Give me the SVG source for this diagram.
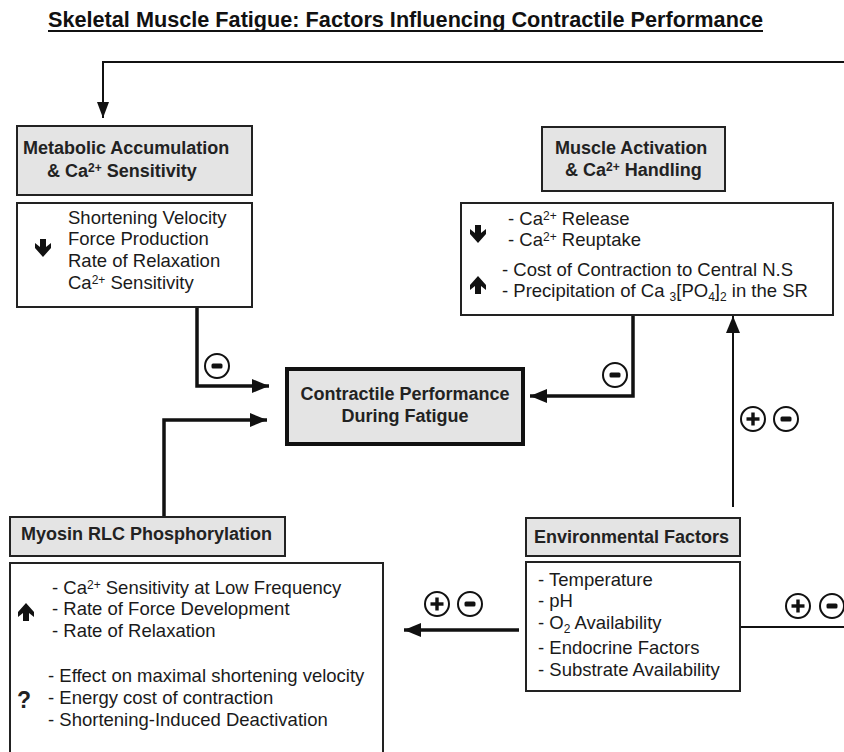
<svg xmlns="http://www.w3.org/2000/svg" xmlns:xlink="http://www.w3.org/1999/xlink" width="844" height="752" viewBox="0 0 844 752">
<style>
  .hdr { fill: #e4e4e4; stroke: #222; stroke-width: 2; }
  .cnt { fill: #fff; stroke: #222; stroke-width: 2; }
  .ctr { fill: #e4e4e4; stroke: #111; stroke-width: 4; }
  .bt { font-family: "Liberation Sans", Arial, sans-serif; font-weight: bold; font-size: 18px; fill: #222; }
  .t { font-family: "Liberation Sans", Arial, sans-serif; font-size: 18.5px; fill: #1a1a1a; }
  .sup { font-size: 12px; }
  .ttl { font-family: "Liberation Sans Narrow", "Liberation Sans", Arial, sans-serif; font-weight: bold; font-size: 22px; fill: #111; }
  .ln { fill: none; stroke: #111; stroke-width: 2; }
  .lnb { fill: none; stroke: #111; stroke-width: 3.5; }
  .sym circle { fill: #fff; stroke: #111; stroke-width: 2; }
</style>
<defs>
  <marker id="ah" markerUnits="userSpaceOnUse" markerWidth="17" markerHeight="14" refX="17" refY="7" orient="auto">
    <path d="M0,0 L17,7 L0,14 z" fill="#111"/>
  </marker>
  <marker id="ahs" markerUnits="userSpaceOnUse" markerWidth="16" markerHeight="12" refX="16" refY="6" orient="auto">
    <path d="M0,0 L16,6 L0,12 z" fill="#111"/>
  </marker>
  <g id="plus" class="sym">
    <circle cx="0" cy="0" r="12"/>
    <rect x="-6.5" y="-1.7" width="13" height="3.4" fill="#111"/>
    <rect x="-1.7" y="-6.5" width="3.4" height="13" fill="#111"/>
  </g>
  <g id="minus" class="sym">
    <circle cx="0" cy="0" r="12"/>
    <rect x="-5.5" y="-2.5" width="11" height="5" rx="1.5" fill="#111"/>
  </g>
  <path id="darr" d="M-3,-9 L3,-9 L3,-1 L8,-5 L8,0 L0,9 L-8,0 L-8,-5 L-3,-1 z" fill="#111"/>
  <path id="uarr" d="M-3,9 L3,9 L3,1 L8,5 L8,0 L0,-9 L-8,0 L-8,5 L-3,1 z" fill="#111"/>
</defs>

<g id="title">
  <text class="ttl" x="48" y="27" textLength="715" lengthAdjust="spacingAndGlyphs">Skeletal Muscle Fatigue: Factors Influencing Contractile Performance</text>
  <line x1="48" y1="31" x2="763" y2="31" stroke="#111" stroke-width="2"/>
</g>

<g id="connectors">
  <path class="ln" d="M844,62 L103,62 L103,118" marker-end="url(#ahs)"/>
  <path class="lnb" d="M197,307 L197,386 L269,386" marker-end="url(#ah)"/>
  <path class="lnb" d="M633,315 L633,396 L530,396" marker-end="url(#ah)"/>
  <path class="lnb" d="M164,517 L164,420 L267,420" marker-end="url(#ah)"/>
  <path class="ln" d="M733,507 L733,316" marker-end="url(#ah)"/>
  <path class="lnb" d="M519,630 L404,630" stroke-width="3" marker-end="url(#ah)"/>
  <path class="ln" d="M740,627 L844,627"/>
  <use xlink:href="#minus" x="217" y="366"/>
  <use xlink:href="#minus" x="615" y="375"/>
  <use xlink:href="#plus" x="753" y="419"/>
  <use xlink:href="#minus" x="786" y="419"/>
  <use xlink:href="#plus" x="437" y="604"/>
  <use xlink:href="#minus" x="470" y="604"/>
  <use xlink:href="#plus" x="798" y="606"/>
  <use xlink:href="#minus" x="832" y="606"/>
</g>

<g id="metabolic">
  <rect class="hdr" x="17" y="126" width="235" height="69"/>
  <text class="bt" x="23" y="154">Metabolic Accumulation</text>
  <text class="bt" x="47" y="177">&amp; Ca<tspan class="sup" dy="-5">2+</tspan><tspan dy="5"> Sensitivity</tspan></text>
  <rect class="cnt" x="17" y="203" width="235" height="104"/>
  <use xlink:href="#darr" x="43" y="248"/>
  <text class="t" x="68" y="224">Shortening Velocity</text>
  <text class="t" x="68" y="245">Force Production</text>
  <text class="t" x="68" y="267">Rate of Relaxation</text>
  <text class="t" x="68" y="289">Ca<tspan class="sup" dy="-5">2+</tspan><tspan dy="5"> Sensitivity</tspan></text>
</g>

<g id="muscle">
  <rect class="hdr" x="542" y="127" width="183" height="64"/>
  <text class="bt" x="555" y="154">Muscle Activation</text>
  <text class="bt" x="565" y="176">&amp;  Ca<tspan class="sup" dy="-5">2+</tspan><tspan dy="5"> Handling</tspan></text>
  <rect class="cnt" x="461" y="203" width="372" height="112"/>
  <use xlink:href="#darr" x="478" y="234"/>
  <use xlink:href="#uarr" x="478" y="285"/>
  <text class="t" x="508" y="225">- Ca<tspan class="sup" dy="-5">2+</tspan><tspan dy="5"> Release</tspan></text>
  <text class="t" x="508" y="246">- Ca<tspan class="sup" dy="-5">2+</tspan><tspan dy="5"> Reuptake</tspan></text>
  <text class="t" x="502" y="276">- Cost of Contraction to Central N.S</text>
  <text class="t" x="502" y="297">- Precipitation of Ca <tspan class="sup" dy="4">3</tspan><tspan dy="-4">[PO</tspan><tspan class="sup" dy="4">4</tspan><tspan dy="-4">]</tspan><tspan class="sup" dy="4">2</tspan><tspan dy="-4"> in the SR</tspan></text>
</g>

<g id="center">
  <rect class="ctr" x="287" y="369" width="236" height="75"/>
  <text class="bt" x="405" y="400" text-anchor="middle">Contractile Performance</text>
  <text class="bt" x="405" y="422" text-anchor="middle">During Fatigue</text>
</g>

<g id="myosin">
  <rect class="hdr" x="10" y="517" width="275" height="39"/>
  <text class="bt" x="21" y="540">Myosin RLC Phosphorylation</text>
  <rect class="cnt" x="10" y="563" width="373" height="200"/>
  <use xlink:href="#uarr" x="26" y="612"/>
  <text class="t" x="52" y="594">- Ca<tspan class="sup" dy="-5">2+</tspan><tspan dy="5"> Sensitivity at Low Frequency</tspan></text>
  <text class="t" x="52" y="615">- Rate of Force Development</text>
  <text class="t" x="52" y="637">- Rate of Relaxation</text>
  <text class="bt" x="17" y="708" style="font-size:23px">?</text>
  <text class="t" x="48" y="682">- Effect on maximal shortening velocity</text>
  <text class="t" x="48" y="704">- Energy cost of contraction</text>
  <text class="t" x="48" y="726">- Shortening-Induced Deactivation</text>
</g>

<g id="environmental">
  <rect class="hdr" x="526" y="518" width="214" height="38"/>
  <text class="bt" x="534" y="543">Environmental Factors</text>
  <rect class="cnt" x="526" y="562" width="214" height="129"/>
  <text class="t" x="538" y="586">- Temperature</text>
  <text class="t" x="538" y="607">- pH</text>
  <text class="t" x="538" y="629">- O<tspan class="sup" dy="4">2</tspan><tspan dy="-4"> Availability</tspan></text>
  <text class="t" x="538" y="654">- Endocrine Factors</text>
  <text class="t" x="538" y="676">- Substrate Availability</text>
</g>
</svg>
